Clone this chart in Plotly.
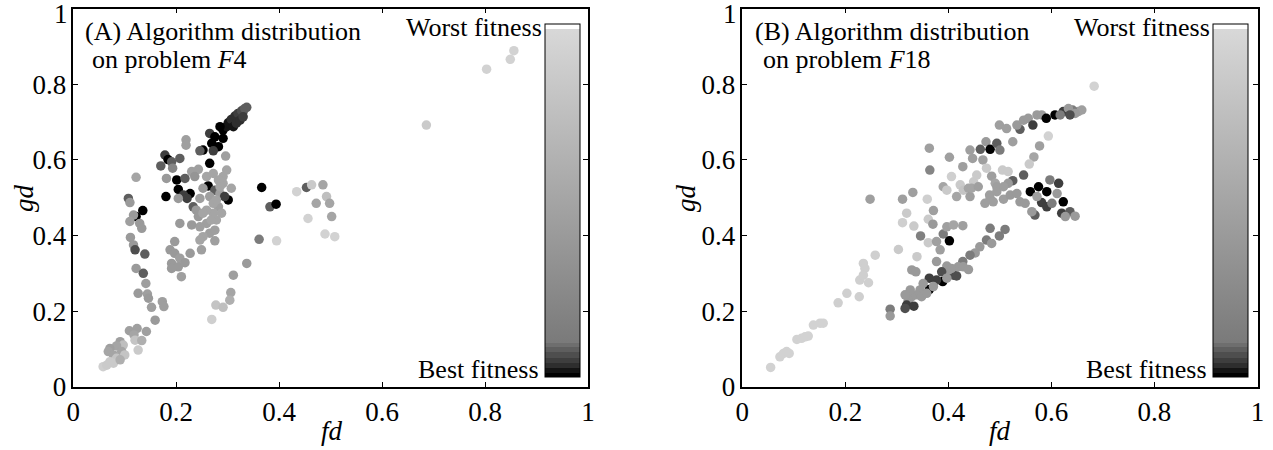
import plotly.graph_objects as go

# ---------------- data ----------------
# Panel A: problem F4  (fd, gd, normalised fitness: 0 = best, 1 = worst)
a_fd = [0.291, 0.298, 0.304, 0.311, 0.317, 0.324, 0.330, 0.337, 0.301, 0.307,
        0.314, 0.320, 0.327, 0.333, 0.311, 0.317, 0.324, 0.330,
        0.285, 0.265, 0.275, 0.291, 0.269, 0.282, 0.252, 0.246, 0.272, 0.219,
        0.219, 0.265, 0.296, 0.178, 0.184, 0.191, 0.207, 0.170, 0.193, 0.122,
        0.181, 0.201, 0.217, 0.230, 0.243, 0.236, 0.204, 0.227, 0.214, 0.221,
        0.180, 0.204, 0.262, 0.252, 0.275, 0.246, 0.233, 0.239, 0.265, 0.285,
        0.291, 0.298, 0.291, 0.307, 0.301, 0.294, 0.282, 0.272, 0.278, 0.259,
        0.246, 0.265, 0.275, 0.252, 0.243, 0.230, 0.207, 0.246, 0.275, 0.366,
        0.382, 0.394, 0.361, 0.395, 0.337, 0.311, 0.107, 0.110, 0.135, 0.122,
        0.117, 0.110, 0.129, 0.133, 0.111, 0.117, 0.120, 0.139, 0.122, 0.136,
        0.197, 0.188, 0.197, 0.207, 0.227, 0.191, 0.204, 0.217, 0.191, 0.210,
        0.249, 0.259, 0.272, 0.282, 0.285, 0.272, 0.259, 0.252, 0.268, 0.288,
        0.278, 0.453, 0.434, 0.463, 0.485, 0.492, 0.498, 0.472, 0.456, 0.502,
        0.141, 0.126, 0.144, 0.146, 0.152, 0.173, 0.176, 0.159, 0.306, 0.304,
        0.277, 0.291, 0.269, 0.109, 0.124, 0.118, 0.142, 0.091, 0.097, 0.084,
        0.071, 0.068, 0.094, 0.100, 0.120, 0.133, 0.126, 0.078, 0.084, 0.071,
        0.058, 0.065, 0.078, 0.091, 0.489, 0.508, 0.856, 0.849, 0.803, 0.686]
a_gd = [0.679, 0.688, 0.695, 0.701, 0.710, 0.719, 0.728, 0.739, 0.698, 0.707,
        0.716, 0.723, 0.730, 0.736, 0.688, 0.697, 0.705, 0.714,
        0.688, 0.670, 0.661, 0.657, 0.644, 0.635, 0.626, 0.624, 0.624, 0.653,
        0.639, 0.591, 0.610, 0.613, 0.601, 0.595, 0.604, 0.584, 0.578, 0.554,
        0.551, 0.547, 0.551, 0.569, 0.575, 0.556, 0.522, 0.511, 0.507, 0.498,
        0.503, 0.498, 0.531, 0.525, 0.520, 0.498, 0.476, 0.467, 0.503, 0.511,
        0.538, 0.573, 0.556, 0.525, 0.494, 0.503, 0.476, 0.459, 0.441, 0.432,
        0.423, 0.406, 0.414, 0.397, 0.450, 0.428, 0.432, 0.388, 0.386, 0.527,
        0.476, 0.483, 0.390, 0.386, 0.326, 0.295, 0.498, 0.487, 0.466, 0.450,
        0.454, 0.437, 0.432, 0.419, 0.395, 0.375, 0.362, 0.351, 0.313, 0.300,
        0.384, 0.362, 0.353, 0.340, 0.353, 0.326, 0.317, 0.328, 0.313, 0.291,
        0.362, 0.556, 0.564, 0.547, 0.529, 0.485, 0.467, 0.459, 0.441, 0.459,
        0.494, 0.527, 0.516, 0.534, 0.534, 0.503, 0.485, 0.485, 0.445, 0.450,
        0.273, 0.247, 0.245, 0.234, 0.210, 0.225, 0.212, 0.176, 0.249, 0.229,
        0.216, 0.210, 0.178, 0.148, 0.154, 0.137, 0.146, 0.119, 0.110, 0.108,
        0.101, 0.093, 0.093, 0.084, 0.123, 0.122, 0.097, 0.084, 0.075, 0.066,
        0.053, 0.057, 0.062, 0.071, 0.404, 0.397, 0.889, 0.866, 0.840, 0.692]
a_fit = [0.005, 0.02, 0.02, 0.03, 0.03, 0.045, 0.06, 0.078, 0.02, 0.03,
         0.03, 0.045, 0.06, 0.078, 0.02, 0.03, 0.03, 0.045,
         0.005, 0.045, 0.005, 0.005, 0.005, 0.005, 0.005, 0.078, 0.045, 0.45,
         0.45, 0.005, 0.45, 0.045, 0.005, 0.078, 0.078, 0.078, 0.2, 0.5,
         0.4, 0.005, 0.078, 0.45, 0.45, 0.35, 0.005, 0.005, 0.045, 0.045,
         0.005, 0.4, 0.005, 0.4, 0.078, 0.45, 0.078, 0.4, 0.45, 0.45,
         0.5, 0.5, 0.5, 0.5, 0.005, 0.045, 0.45, 0.5, 0.5, 0.45,
         0.45, 0.45, 0.45, 0.5, 0.4, 0.4, 0.4, 0.5, 0.45, 0.005,
         0.078, 0.005, 0.12, 0.93, 0.4, 0.45, 0.078, 0.4, 0.005, 0.005,
         0.4, 0.45, 0.4, 0.4, 0.4, 0.4, 0.06, 0.078, 0.4, 0.078,
         0.4, 0.4, 0.4, 0.45, 0.4, 0.4, 0.4, 0.4, 0.4, 0.45,
         0.45, 0.5, 0.5, 0.5, 0.5, 0.5, 0.5, 0.5, 0.5, 0.5,
         0.5, 0.078, 0.93, 0.85, 0.5, 0.75, 0.5, 0.5, 0.93, 0.5,
         0.45, 0.4, 0.45, 0.4, 0.45, 0.45, 0.45, 0.4, 0.5, 0.6,
         0.8, 0.75, 0.9, 0.45, 0.45, 0.5, 0.45, 0.45, 0.75, 0.5,
         0.45, 0.5, 0.5, 0.8, 0.8, 0.6, 0.85, 0.5, 0.8, 0.85,
         0.9, 0.85, 0.85, 0.6, 0.93, 0.93, 0.93, 0.93, 0.93, 0.85]

# Panel B: problem F18
b_fd = [0.248, 0.311, 0.331, 0.363, 0.402, 0.364, 0.359, 0.319, 0.311, 0.333,
        0.371, 0.361, 0.370, 0.346, 0.303, 0.339, 0.258, 0.235, 0.238, 0.228,
        0.245, 0.203, 0.186, 0.227, 0.377, 0.361, 0.377, 0.384, 0.390, 0.402,
        0.397, 0.410, 0.428, 0.390, 0.397, 0.423, 0.406, 0.416, 0.429, 0.439,
        0.442, 0.449, 0.455, 0.445, 0.458, 0.428, 0.442, 0.447, 0.462, 0.473,
        0.481, 0.494, 0.500, 0.467, 0.474, 0.484, 0.491, 0.494, 0.499, 0.513,
        0.525, 0.539, 0.533, 0.546, 0.555, 0.564, 0.572, 0.577, 0.581, 0.590,
        0.566, 0.594, 0.557, 0.505, 0.516, 0.546, 0.525, 0.516, 0.507, 0.494,
        0.480, 0.471, 0.481, 0.487, 0.507, 0.520, 0.533, 0.539, 0.549, 0.559,
        0.575, 0.591, 0.581, 0.591, 0.568, 0.562, 0.481, 0.499, 0.510, 0.474,
        0.484, 0.461, 0.452, 0.442, 0.428, 0.419, 0.410, 0.400, 0.397, 0.387,
        0.389, 0.377, 0.363, 0.363, 0.351, 0.345, 0.339, 0.329, 0.337, 0.329,
        0.322, 0.319, 0.333, 0.316, 0.287, 0.287, 0.429, 0.439, 0.416, 0.348,
        0.358, 0.371, 0.397, 0.406, 0.326, 0.316, 0.055, 0.073, 0.080, 0.086,
        0.091, 0.106, 0.115, 0.122, 0.128, 0.138, 0.151, 0.157, 0.235, 0.683,
        0.652, 0.641, 0.623, 0.607, 0.614, 0.611, 0.601, 0.623, 0.620, 0.636,
        0.646, 0.627, 0.597, 0.633, 0.659, 0.646, 0.636, 0.617, 0.572]
b_gd = [0.496, 0.496, 0.514, 0.631, 0.607, 0.573, 0.496, 0.459, 0.434, 0.425,
        0.466, 0.443, 0.430, 0.399, 0.363, 0.344, 0.348, 0.326, 0.313, 0.282,
        0.275, 0.247, 0.222, 0.238, 0.331, 0.381, 0.384, 0.362, 0.404, 0.386,
        0.423, 0.428, 0.426, 0.529, 0.520, 0.534, 0.556, 0.503, 0.520, 0.525,
        0.503, 0.542, 0.560, 0.525, 0.529, 0.582, 0.626, 0.604, 0.628, 0.648,
        0.628, 0.644, 0.626, 0.600, 0.578, 0.557, 0.538, 0.529, 0.692, 0.683,
        0.648, 0.681, 0.692, 0.705, 0.710, 0.692, 0.719, 0.637, 0.719, 0.710,
        0.608, 0.663, 0.589, 0.573, 0.569, 0.560, 0.545, 0.538, 0.529, 0.516,
        0.507, 0.485, 0.498, 0.489, 0.496, 0.507, 0.511, 0.489, 0.485, 0.516,
        0.529, 0.516, 0.487, 0.476, 0.454, 0.463, 0.419, 0.399, 0.416, 0.388,
        0.379, 0.370, 0.354, 0.348, 0.331, 0.317, 0.295, 0.309, 0.319, 0.304,
        0.278, 0.282, 0.287, 0.257, 0.273, 0.256, 0.243, 0.309, 0.304, 0.238,
        0.229, 0.216, 0.213, 0.207, 0.205, 0.187, 0.317, 0.310, 0.293, 0.238,
        0.247, 0.265, 0.287, 0.313, 0.256, 0.243, 0.051, 0.079, 0.088, 0.093,
        0.088, 0.125, 0.128, 0.132, 0.134, 0.163, 0.168, 0.168, 0.295, 0.795,
        0.728, 0.732, 0.728, 0.719, 0.538, 0.511, 0.485, 0.489, 0.459, 0.463,
        0.451, 0.450, 0.547, 0.736, 0.732, 0.723, 0.719, 0.719, 0.503]
b_fit = [0.45, 0.45, 0.45, 0.45, 0.45, 0.2, 0.9, 0.85, 0.9, 0.85,
         0.45, 0.85, 0.4, 0.15, 0.85, 0.85, 0.9, 0.9, 0.9, 0.9,
         0.9, 0.9, 0.9, 0.9, 0.4, 0.85, 0.45, 0.45, 0.12, 0.005,
         0.45, 0.5, 0.45, 0.5, 0.85, 0.85, 0.9, 0.5, 0.8, 0.5,
         0.45, 0.85, 0.85, 0.5, 0.45, 0.45, 0.45, 0.45, 0.078, 0.4,
         0.005, 0.078, 0.12, 0.45, 0.85, 0.45, 0.5, 0.45, 0.45, 0.45,
         0.45, 0.078, 0.4, 0.4, 0.4, 0.045, 0.4, 0.45, 0.4, 0.005,
         0.5, 0.93, 0.85, 0.85, 0.85, 0.078, 0.078, 0.4, 0.45, 0.45,
         0.45, 0.45, 0.45, 0.45, 0.45, 0.4, 0.4, 0.4, 0.4, 0.005,
         0.005, 0.005, 0.045, 0.045, 0.078, 0.4, 0.12, 0.12, 0.12, 0.12,
         0.4, 0.4, 0.4, 0.12, 0.12, 0.4, 0.06, 0.4, 0.4, 0.06,
         0.005, 0.045, 0.045, 0.005, 0.4, 0.4, 0.4, 0.4, 0.4, 0.4,
         0.4, 0.045, 0.045, 0.06, 0.12, 0.4, 0.4, 0.4, 0.06, 0.4,
         0.4, 0.4, 0.4, 0.4, 0.4, 0.4, 0.93, 0.93, 0.93, 0.93,
         0.93, 0.93, 0.93, 0.93, 0.93, 0.93, 0.93, 0.93, 0.9, 0.93,
         0.45, 0.12, 0.045, 0.005, 0.045, 0.4, 0.12, 0.005, 0.045, 0.078,
         0.4, 0.4, 0.12, 0.4, 0.45, 0.4, 0.06, 0.12, 0.45]

tick_vals = [0, 0.2, 0.4, 0.6, 0.8, 1]
tick_text = ["0", "0.2", "0.4", "0.6", "0.8", "1"]
title_line1 = ["(A) Algorithm distribution", "(B) Algorithm distribution"]
title_line2 = ["on problem <i>F</i>4", "on problem <i>F</i>18"]

# ---------------- styling ----------------
W, H = 1273, 450
SERIF = "Liberation Serif"

gray_scale = [
    [0.0, "#000000"], [0.012, "#000000"],
    [0.012, "#141414"], [0.025, "#141414"],
    [0.025, "#2e2e2e"], [0.04, "#2e2e2e"],
    [0.04, "#3e3e3e"], [0.055, "#3e3e3e"],
    [0.055, "#4e4e4e"], [0.07, "#4e4e4e"],
    [0.07, "#5e5e5e"], [0.085, "#5e5e5e"],
    [0.085, "#6e6e6e"], [0.097, "#6e6e6e"],
    [0.097, "#7a7a7a"], [0.985, "#d8d8d8"],
    [0.985, "#ffffff"], [1.0, "#ffffff"],
]

def px_x(p):
    return p / W

def px_y(p):
    return 1 - p / H

dom_y = [px_y(386.7), px_y(8.7)]
dom_a = [px_x(73.3), px_x(588.0)]
dom_b = [px_x(742.3), px_x(1257.5)]

fig = go.Figure()

def add_panel(fd, gd, fit, xa, ya, cb_left):
    fig.add_trace(go.Scatter(
        x=fd, y=gd, mode="markers", xaxis=xa, yaxis=ya, showlegend=False,
        hoverinfo="x+y", cliponaxis=False,
        marker=dict(size=9.5, color=fit, cmin=0, cmax=1, colorscale=gray_scale,
                    line=dict(width=0), opacity=1,
                    showscale=True,
                    colorbar=dict(x=px_x(cb_left), xanchor="left",
                                  y=px_y(200.5), yanchor="middle",
                                  thickness=35, thicknessmode="pixels",
                                  len=353, lenmode="pixels",
                                  xpad=0, ypad=0, outlinewidth=1,
                                  outlinecolor="black",
                                  showticklabels=False, ticks="")),
    ))

add_panel(a_fd, a_gd, a_fit, "x", "y", 545)
add_panel(b_fd, b_gd, b_fit, "x2", "y2", 1213)

axis_common = dict(range=[0, 1], tickvals=tick_vals,
                   ticks="inside", ticklen=5, tickwidth=1, tickcolor="black",
                   showline=True, linecolor="black", linewidth=1.5,
                   mirror="ticks", showgrid=False, zeroline=False,
                   ticklabeloverflow="allow",
                   tickfont=dict(family=SERIF, size=27, color="black"),
                   fixedrange=True)
# the top y label "1" is drawn separately (nudged down so it stays on the page)
y_tick_text = tick_text[:-1] + [""]

fig.update_layout(
    width=W, height=H,
    margin=dict(l=0, r=0, t=0, b=0, autoexpand=False),
    paper_bgcolor="white", plot_bgcolor="white",
    font=dict(family=SERIF, color="black"),
    xaxis=dict(domain=dom_a, anchor="y", ticktext=tick_text, **axis_common),
    yaxis=dict(domain=dom_y, anchor="x", ticktext=y_tick_text, **axis_common),
    xaxis2=dict(domain=dom_b, anchor="y2", ticktext=tick_text, **axis_common),
    yaxis2=dict(domain=dom_y, anchor="x2", ticktext=y_tick_text, **axis_common),
)

ann = []
for i, (left, left2, cb_left, axis_left) in enumerate(
        [(83, 90, 545, 73.3), (753, 761, 1213, 742.3)]):
    ann.append(dict(text=title_line1[i], x=px_x(left), y=px_y(31),
                    xref="paper", yref="paper", xanchor="left",
                    yanchor="middle", showarrow=False,
                    font=dict(family=SERIF, size=26, color="black")))
    ann.append(dict(text=title_line2[i], x=px_x(left2), y=px_y(59),
                    xref="paper", yref="paper", xanchor="left",
                    yanchor="middle", showarrow=False,
                    font=dict(family=SERIF, size=26, color="black")))
    ann.append(dict(text="Worst fitness", x=px_x(cb_left - 1), y=px_y(28),
                    xref="paper", yref="paper", xanchor="right",
                    yanchor="middle", showarrow=False,
                    font=dict(family=SERIF, size=26, color="black")))
    ann.append(dict(text="Best fitness", x=px_x(cb_left - 4), y=px_y(369),
                    xref="paper", yref="paper", xanchor="right",
                    yanchor="middle", showarrow=False,
                    font=dict(family=SERIF, size=26, color="black")))
    ann.append(dict(text=tick_text[-1], x=px_x(axis_left - 3), y=px_y(14),
                    xref="paper", yref="paper", xanchor="right",
                    yanchor="middle", showarrow=False,
                    font=dict(family=SERIF, size=27, color="black")))

for gx, fx in [(24, 332), (686, 1000)]:
    ann.append(dict(text="<i>gd</i>", x=px_x(gx), y=px_y(198), xref="paper",
                    yref="paper", xanchor="center", yanchor="middle",
                    textangle=-90, showarrow=False,
                    font=dict(family=SERIF, size=27, color="black")))
    ann.append(dict(text="<i>fd</i>", x=px_x(fx), y=px_y(431), xref="paper",
                    yref="paper", xanchor="center", yanchor="middle",
                    showarrow=False,
                    font=dict(family=SERIF, size=27, color="black")))

fig.update_layout(annotations=ann)

fig.write_html("out.html")
